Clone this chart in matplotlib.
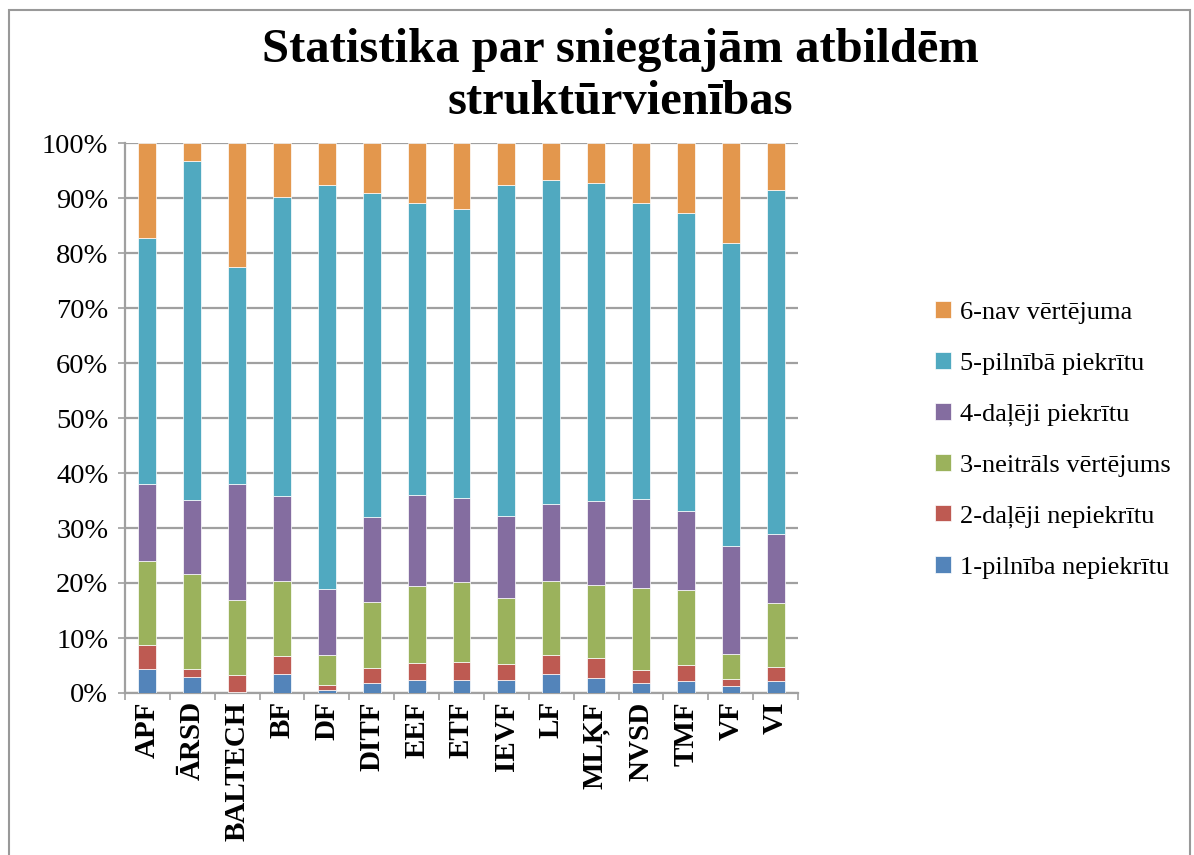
import matplotlib
matplotlib.use("Agg")
import matplotlib.pyplot as plt
import numpy as np
from matplotlib.patches import Rectangle

categories = ["APF", "ĀRSD", "BALTECH", "BF", "DF", "DITF", "EEF", "ETF",
              "IEVF", "LF", "MLĶF", "NVSD", "TMF", "VF", "VI"]

series_names = ["1-pilnība nepiekrītu", "2-daļēji nepiekrītu", "3-neitrāls vērtējums",
                "4-daļēji piekrītu", "5-pilnībā piekrītu", "6-nav vērtējuma"]

s1 = [4.3, 2.9, 0.2, 3.4, 0.5, 1.9, 2.3, 2.4, 2.4, 3.5, 2.7, 1.9, 2.2, 1.2, 2.2]
s2 = [4.5, 1.4, 3.1, 3.4, 1.0, 2.6, 3.2, 3.2, 2.9, 3.5, 3.6, 2.2, 2.9, 1.4, 2.6]
s3 = [15.2, 17.3, 13.6, 13.6, 5.5, 12.1, 14.0, 14.6, 12.0, 13.4, 13.3, 15.0, 13.6, 4.5, 11.6]
s4 = [14.0, 13.5, 21.1, 15.5, 12.0, 15.4, 16.5, 15.3, 14.9, 13.9, 15.3, 16.2, 14.4, 19.7, 12.5]
s5 = [44.7, 61.6, 39.5, 54.2, 73.4, 58.9, 53.1, 52.5, 60.2, 58.9, 57.8, 53.8, 54.2, 55.0, 62.6]
s6 = [17.3, 3.3, 22.5, 9.9, 7.6, 9.1, 10.9, 12.0, 7.6, 6.8, 7.3, 10.9, 12.7, 18.2, 8.5]

ytick_labels = ["0%", "10%", "20%", "30%", "40%", "50%", "60%", "70%", "80%", "90%", "100%"]

colors = ["#5384BA", "#BE5A52", "#9BB25C", "#846DA0", "#50A9C0", "#E3974D"]

title = "Statistika par sniegtajām atbildēm\nstruktūrvienības"

W, H = 1194, 855
fig = plt.figure(figsize=(W / 100, H / 100), dpi=100)
plt.rcParams["font.family"] = ["Liberation Serif", "DejaVu Serif"]

ax = fig.add_axes([125 / W, 1 - 693 / H, (798 - 125) / W, (693 - 143) / H])

data = np.array([s1, s2, s3, s4, s5, s6])
totals = data.sum(axis=0)
pct = data / totals * 100.0

x = np.arange(len(categories))
bottom = np.zeros(len(categories))
handles = []
for i in range(6):
    b = ax.bar(x, pct[i], 0.4, bottom=bottom, color=colors[i],
               edgecolor="white", linewidth=0.5, label=series_names[i], zorder=3)
    handles.append(b)
    bottom += pct[i]

ax.set_xlim(-0.5, len(categories) - 0.5)
ax.set_ylim(0, 100)

grid_c = "#A0A0A0"
ax.set_yticks(np.arange(0, 101, 10))
ax.set_yticklabels(ytick_labels, fontsize=20.5)
ax.yaxis.grid(True, color=grid_c, linewidth=1.6, zorder=0)
ax.set_axisbelow(True)

ax.set_xticks(np.arange(-0.5, len(categories), 1.0))
ax.set_xticklabels([])
ax.set_xticks(x, minor=True)
ax.set_xticklabels(categories, minor=True, rotation=90, fontsize=21,
                   fontweight="bold", va="top", ha="center")
ax.tick_params(axis="x", which="major", length=5, width=1.2, color=grid_c)
ax.tick_params(axis="x", which="minor", length=0, pad=6)
ax.tick_params(axis="y", which="major", length=5, width=1.2, color=grid_c, pad=7)

for s in ["top", "right"]:
    ax.spines[s].set_visible(False)
for s in ["left", "bottom"]:
    ax.spines[s].set_color(grid_c)
    ax.spines[s].set_linewidth(1.6)

fig.text(620 / W, 1 - 76 / H, title, ha="center", va="center", fontsize=35,
         fontweight="bold", linespacing=1.22)

leg = fig.legend(handles[::-1], series_names[::-1], loc="center left",
                 bbox_to_anchor=(922 / W, 1 - 440 / H), frameon=False,
                 fontsize=19, handlelength=0.6, handleheight=0.6,
                 handletextpad=0.35, labelspacing=1.06, borderpad=0)

fig.patches.append(Rectangle((9 / W, -0.02), (1190 - 9) / W, 1.02 - 10 / H,
                             transform=fig.transFigure, fill=False,
                             edgecolor="#999999", linewidth=1.5))

fig.savefig("out.png", dpi=100)
